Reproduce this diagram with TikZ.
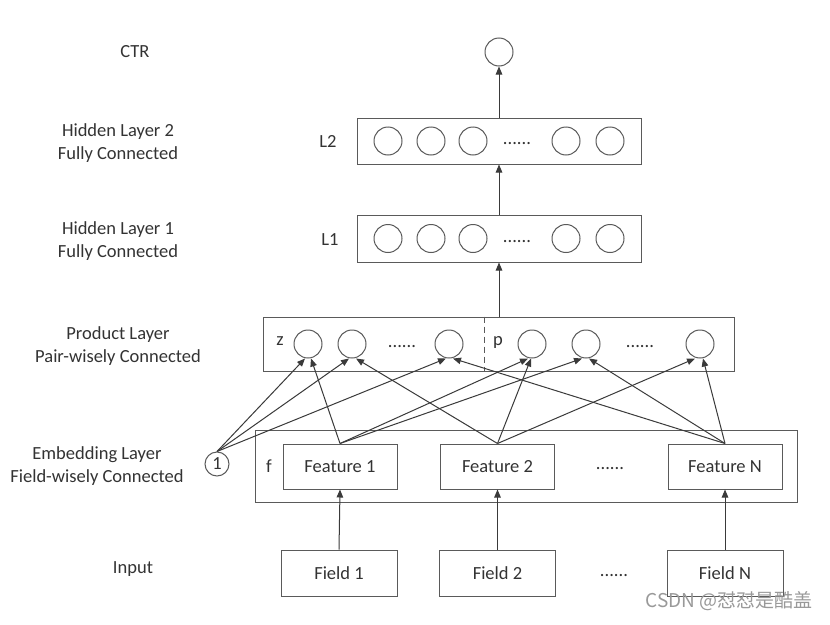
\documentclass[tikz,border=0pt]{standalone}
\usepackage{fontspec}
\setmainfont{Carlito}
\newfontfamily\cjkfont{Noto Sans CJK SC}
\usetikzlibrary{arrows.meta}
\definecolor{linec}{HTML}{3A3A3A}
\definecolor{boxc}{HTML}{5A5A5A}
\definecolor{txtc}{HTML}{333333}
\begin{document}
\begin{tikzpicture}[x=1pt,y=-1pt,
  every node/.style={text=txtc,font=\fontsize{18.5}{23}\selectfont},
  neuron/.style={circle,draw=boxc,line width=1pt,minimum size=28pt,inner sep=0pt},
  layerbox/.style={draw=boxc,line width=1pt,rectangle,inner sep=0pt},
  featbox/.style={draw=boxc,line width=1pt,rectangle,inner sep=0pt,minimum width=114pt,minimum height=45pt},
  fieldbox/.style={draw=boxc,line width=1pt,rectangle,inner sep=0pt,minimum width=116pt,minimum height=46pt},
  lbl/.style={align=center,inner sep=0pt},
  dotsn/.style={inner sep=0pt},
  arr/.style={draw=linec,line width=1pt,-{Triangle[length=8pt,width=6.5pt]}}
]
\fill[white] (0,0) rectangle (830,624);
\useasboundingbox (0,0) rectangle (830,624);

% left labels
\node[lbl] (tctr) at (135,52) {CTR};
\node[lbl] (th2) at (118,143.5) {Hidden Layer 2\\Fully Connected};
\node[lbl] (th1) at (118,241) {Hidden Layer 1\\Fully Connected};
\node[lbl] (tprod) at (118,346) {Product Layer\\Pair-wisely Connected};
\node[lbl] (temb) at (97,466.5) {Embedding Layer\\Field-wisely Connected};
\node[lbl] (tin) at (133,569) {Input};

% output neuron
\node[neuron] (ctr) at (499,52) {};

% hidden layer 2
\node[layerbox,minimum width=284pt,minimum height=46pt] (L2) at (499,141) {};
\node[lbl] (tL2) at (328,141) {L2};
\foreach \x/\n in {388/a,431/b,473/c,566/d,610/e}
  \node[neuron] (h2\n) at (\x,141) {};
\node[dotsn] (h2dots) at (517,144) {......};

% hidden layer 1
\node[layerbox,minimum width=284pt,minimum height=47pt] (L1) at (499,238.5) {};
\node[lbl] (tL1) at (330,240) {L1};
\foreach \x/\n in {388/a,431/b,473/c,566/d,610/e}
  \node[neuron] (h1\n) at (\x,238.5) {};
\node[dotsn] (h1dots) at (517,241.5) {......};

% product layer
\node[layerbox,minimum width=471pt,minimum height=54pt] (P) at (499,344) {};
\draw[boxc,line width=1pt,dash pattern=on 6pt off 4pt] ([xshift=-15pt]P.north) -- ([xshift=-15pt]P.south);
\node[lbl] (tz) at (280,341) {z};
\node[lbl] (tp) at (498,342) {p};
\node[neuron] (z1) at (308,344) {};
\node[neuron] (z2) at (352,344) {};
\node[neuron] (z3) at (449,344) {};
\node[dotsn] (zdots) at (402,347) {......};
\node[neuron] (p1) at (532,344) {};
\node[neuron] (p2) at (586,344) {};
\node[neuron] (pN) at (700,344) {};
\node[dotsn] (pdots) at (640,347) {......};

% embedding layer
\node[layerbox,minimum width=542pt,minimum height=72pt] (E) at (526,466) {};
\node[lbl] (tf) at (269,466) {f};
\node[featbox] (f1) at (340,466.5) {Feature 1};
\node[featbox] (f2) at (497.5,466.5) {Feature 2};
\node[featbox] (fN) at (725,466.5) {Feature N};
\node[dotsn] (fdots) at (610,469) {......};
\node[circle,draw=boxc,line width=1pt,minimum size=24pt,inner sep=0pt] (one) at (217,464) {1};

% input
\node[fieldbox] (d1) at (339,573) {Field 1};
\node[fieldbox] (d2) at (497.5,573) {Field 2};
\node[fieldbox] (dN) at (725,573) {Field N};
\node[dotsn] (ddots) at (614,576) {......};

% vertical arrows
\draw[arr] (L2.north) -- (ctr.south);
\draw[arr] (L1.north) -- (L2.south);
\draw[arr] (P.north) -- (L1.south);
\draw[arr] (d1.north) -- (f1.south);
\draw[arr] (d2.north) -- (f2.south);
\draw[arr] (dN.north) -- (fN.south);

% product connections
\draw[arr] (one.north) -- ([xshift=-3pt]z1.south);
\draw[arr] (one.north) -- ([xshift=-3pt]z2.south);
\draw[arr] (one.north) -- ([xshift=-3pt]z3.south);
\draw[arr] (f1.north) -- ([xshift=3pt]z1.south);
\draw[arr] (f2.north) -- ([xshift=4pt]z2.south);
\draw[arr] (fN.north) -- ([xshift=4pt]z3.south);
\draw[arr] (f1.north) -- ([xshift=-4pt]p1.south);
\draw[arr] (f2.north) -- ([xshift=-1pt]p1.south);
\draw[arr] (f1.north) -- ([xshift=-4pt]p2.south);
\draw[arr] (fN.north) -- ([xshift=3pt]p2.south);
\draw[arr] (f2.north) -- ([xshift=-5pt]pN.south);
\draw[arr] (fN.north) -- ([xshift=3pt]pN.south);

% watermark
\node[inner sep=0pt,text=black!40,font=\cjkfont\fontsize{19}{22}\selectfont] (wm) at (729,601) {CSDN @怼怼是酷盖};
\end{tikzpicture}
\end{document}
